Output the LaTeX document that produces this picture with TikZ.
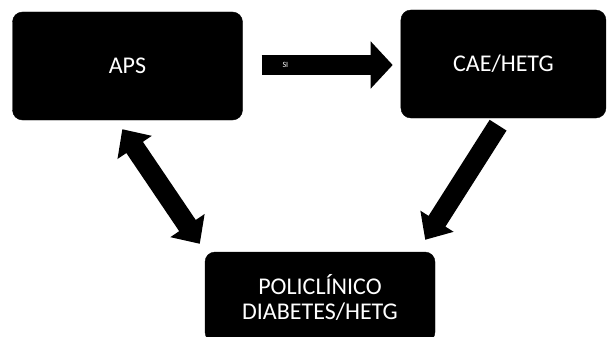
\documentclass[tikz,border=0pt]{standalone}
\usepackage{fontspec}
\setmainfont{Carlito}
\usetikzlibrary{
    arrows.meta,
    positioning,
}
\tikzset{
    block/.style={draw=black,fill=black,rounded corners=10pt,text=white,align=center,font=\fontsize{24}{25}\selectfont,inner sep=0pt},
    fatarrow/.style={line width=20pt,-{Triangle[length=22pt,width=46pt]}},
    fatdouble/.style={line width=20pt,{Triangle[length=22pt,width=40pt]}-{Triangle[length=22pt,width=40pt]}},
}

\begin{document}
\begin{tikzpicture}[x=1pt,y=-1pt]
            \useasboundingbox (0,0) rectangle (616,337);
            \clip (0,0) rectangle (616,337);
            \node[block,minimum width=230pt,minimum height=108pt] (aps) at (127.5,66) {APS};
            \node[block,minimum width=205pt,minimum height=108pt,right=158pt of aps.east,anchor=west,yshift=2pt] (cae) {CAE/HETG};
            \node[block,minimum width=230pt,minimum height=90pt] (pol) at (320,297) {POLICLÍNICO\\DIABETES/HETG};
            \draw[fatarrow,shorten <=19pt,shorten >=8pt] (aps.east |- 0,65) -- (cae.west |- 0,65)
                node[pos=0.27,text=white,font=\fontsize{8}{8}\selectfont] (si) {SI};
            \draw[fatdouble] ([xshift=110pt,yshift=-9pt]aps.south west) -- ([xshift=-5pt,yshift=8pt]pol.north west);
            \draw[fatarrow,-{Triangle[length=22pt,width=38pt]}] ([xshift=-108pt,yshift=-7pt]cae.south east) -- ([xshift=-10pt,yshift=12pt]pol.north east);
        \end{tikzpicture}
\end{document}
